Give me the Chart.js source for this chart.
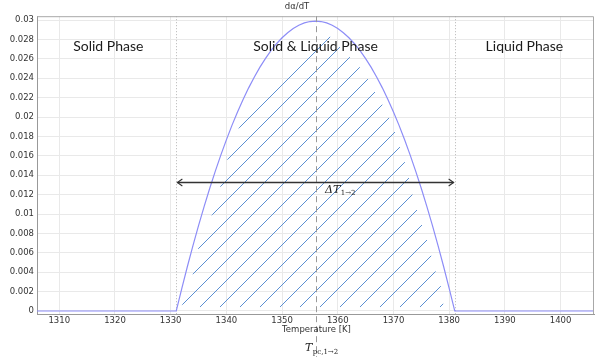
<!DOCTYPE html>
<html>
<head>
<meta charset="utf-8">
<script src="https://cdn.jsdelivr.net/npm/chart.js@4.4.1/dist/chart.umd.min.js"></script>
<style>
html,body{margin:0;padding:0;background:#fff;}
canvas{display:block;}
</style>
</head>
<body>
<canvas id="c" width="600" height="357"></canvas>
<script>
// ---- data ----
const xTicks = [1310,1320,1330,1340,1350,1360,1370,1380,1390,1400];
const yTicks = [0,0.002,0.004,0.006,0.008,0.01,0.012,0.014,0.016,0.018,0.02,0.022,0.024,0.026,0.028,0.03];
const tempK = [1306,1331,1332,1333,1334,1335,1336,1337,1338,1339,1340,1341,1342,1343,1344,1345,1346,1347,1348,1349,1350,1351,1352,1353,1354,1355,1356,
               1357,1358,1359,1360,1361,1362,1363,1364,1365,1366,1367,1368,1369,1370,1371,1372,1373,1374,1375,1376,1377,1378,1379,1380,1381,1406];
const dAlphaDT = [0,0,0.00234,0.00459,0.00675,0.0088,0.01076,0.01263,0.0144,0.01607,0.01765,0.01914,0.02052,0.02182,0.02301,0.02411,0.02512,0.02602,0.02684,0.02756,0.02818,0.0287,0.02913,0.02947,0.02971,0.02985,0.0299,
                  0.02985,0.02971,0.02947,0.02913,0.0287,0.02818,0.02756,0.02684,0.02602,0.02512,0.02411,0.02301,0.02182,0.02052,0.01914,0.01765,0.01607,0.0144,0.01263,0.01076,0.0088,0.00675,0.00459,0.00234,0,0];
// upper edge of the hatched region
const hatchT   = [1331.9,1332.6,1334.4,1335.1,1337.8,1340.3,1342.1,1345.5,1357.5,1360.9,1364.5,1368.1,1369.7,1372.4,1373.6,1375.0,1376.3,1377.0,1377.9,1378.8,1379.0];
const hatchTop = [0.0004,0.0014,0.0045,0.0070,0.0104,0.0159,0.0187,0.0227,0.0290,0.0269,0.0248,0.0212,0.0194,0.0147,0.0115,0.0091,0.0068,0.0052,0.0034,0.0021,0.0004];
const hatchBase = 0.0004;
const phaseStart = 1331, phaseEnd = 1381, phaseCenter = 1356;
const arrowLevel = 0.01329;
const phaseLabels = ['Solid Phase','Solid & Liquid Phase','Liquid Phase'];
const phaseLabelT = [1318.8,1356,1393.5];
const phaseLabelY = 0.0268;
const xAxisTitle = 'Temperature [K]';

// ---- hatch pattern ----
const tile = document.createElement('canvas');
tile.width = 20; tile.height = 20;
const tc = tile.getContext('2d');
tc.strokeStyle = '#5b8fd2';
tc.lineWidth = 1;
tc.beginPath();
tc.moveTo(-2,22); tc.lineTo(22,-2);
tc.moveTo(-5,5); tc.lineTo(5,-5);
tc.moveTo(15,25); tc.lineTo(25,15);
tc.stroke();
const ctxMain = document.getElementById('c').getContext('2d');
const hatchPattern = ctxMain.createPattern(tile,'repeat');
hatchPattern.setTransform(new DOMMatrix().translate(7,0));

const curvePts = tempK.map((t,i)=>({x:t,y:dAlphaDT[i]}));
const hatchPts = hatchT.map((t,i)=>({x:t,y:hatchTop[i]}));

const annot = {
  id:'annot',
  beforeDatasetsDraw(chart){
    const {ctx, chartArea:a, scales:{x}} = chart;
    ctx.save();
    ctx.strokeStyle = '#b5b5b5';
    ctx.lineWidth = 1;
    ctx.setLineDash([1,2]);
    [phaseStart, phaseEnd].forEach(t=>{
      const px = Math.round(x.getPixelForValue(t))+0.5;
      ctx.beginPath(); ctx.moveTo(px,a.top); ctx.lineTo(px,a.bottom); ctx.stroke();
    });
    ctx.restore();
  },
  afterDatasetsDraw(chart){
    const {ctx, chartArea:a, scales:{x,y}} = chart;
    ctx.save();
    // top/right frame
    ctx.strokeStyle = '#a8a8a8'; ctx.lineWidth = 1;
    ctx.beginPath();
    ctx.moveTo(a.left, a.top+0.5); ctx.lineTo(a.right-0.5, a.top+0.5); ctx.lineTo(a.right-0.5, a.bottom);
    ctx.stroke();
    // dashed centre line
    const cx = Math.round(x.getPixelForValue(phaseCenter))+0.5;
    ctx.strokeStyle = '#9a9a9a';
    ctx.setLineDash([6,4]);
    ctx.beginPath(); ctx.moveTo(cx,a.top); ctx.lineTo(cx,chart.height); ctx.stroke();
    ctx.setLineDash([]);
    // double arrow
    const ay = Math.round(y.getPixelForValue(arrowLevel))+0.5;
    const x1 = x.getPixelForValue(phaseStart+0.2), x2 = x.getPixelForValue(phaseEnd-0.2);
    ctx.strokeStyle = '#333'; ctx.lineWidth = 1.4;
    ctx.beginPath(); ctx.moveTo(x1,ay); ctx.lineTo(x2,ay); ctx.stroke();
    ctx.lineWidth = 1.1;
    ctx.beginPath();
    ctx.moveTo(x1+5,ay-3.5); ctx.lineTo(x1,ay); ctx.lineTo(x1+5,ay+3.5);
    ctx.moveTo(x2-5,ay-3.5); ctx.lineTo(x2,ay); ctx.lineTo(x2-5,ay+3.5);
    ctx.stroke();
    // phase labels
    ctx.fillStyle = '#1a1a1a';
    ctx.font = '14px Lato';
    ctx.textAlign = 'center'; ctx.textBaseline = 'alphabetic';
    phaseLabels.forEach((s,i)=>{
      ctx.fillText(s, x.getPixelForValue(phaseLabelT[i]), y.getPixelForValue(phaseLabelY));
    });
    // x axis title
    ctx.fillStyle = '#333';
    ctx.font = '8.5px "DejaVu Sans"';
    ctx.textBaseline = 'middle';
    ctx.fillText(xAxisTitle, (a.left+a.right)/2+1, a.bottom+15.5);
    ctx.textBaseline = 'alphabetic';
    // Delta T label
    ctx.textAlign = 'left';
    ctx.fillStyle = '#222';
    const dx = x.getPixelForValue(1357.7), dy = y.getPixelForValue(0.0122);
    ctx.font = 'italic 11px "DejaVu Serif"';
    ctx.fillText('ΔT', dx, dy);
    const w1 = ctx.measureText('ΔT').width;
    ctx.font = '7px "DejaVu Serif"';
    ctx.fillText('1→2', dx+w1+0.5, dy+2.5);
    // T_pc label
    const tx = x.getPixelForValue(1354.1), ty = 351;
    ctx.font = 'italic 11px "DejaVu Serif"';
    ctx.fillText('T', tx, ty);
    const w2 = ctx.measureText('T').width;
    ctx.font = '7px "DejaVu Serif"';
    ctx.fillText('pc,1→2', tx+w2+0.5, ty+2.5);
    ctx.restore();
  }
};

const tickFont = {family:'DejaVu Sans', size:8.5};
new Chart(ctxMain, {
  type:'line',
  data:{
    datasets:[
      {data:curvePts, borderColor:'#8d8df7', borderWidth:1.2, pointRadius:0, fill:false, tension:0, order:1},
      {data:hatchPts, borderWidth:0, borderColor:'rgba(0,0,0,0)', backgroundColor:hatchPattern, pointRadius:0, fill:{value:hatchBase}, tension:0, order:2}
    ]
  },
  options:{
    responsive:false,
    animation:false,
    layout:{padding:{top:0,right:6,left:0,bottom:0}},
    plugins:{
      legend:{display:false},
      tooltip:{enabled:false},
      title:{display:true, text:'dα/dT', color:'#333', font:{family:'DejaVu Sans', size:8.5, weight:'normal'}, padding:{top:2,bottom:4}}
    },
    scales:{
      x:{
        type:'linear', min:1306, max:1406,
        afterBuildTicks:s=>{s.ticks = xTicks.map(v=>({value:v}));},
        afterFit:s=>{s.height = 43;},
        ticks:{color:'#333', font:tickFont, padding:2, maxRotation:0, callback:v=>String(v)},
        grid:{color:'#e9e9e9', drawTicks:false},
        border:{color:'#999'},
        title:{display:false}
      },
      y:{
        min:-0.00031, max:0.0304,
        afterBuildTicks:s=>{s.ticks = yTicks.map(v=>({value:v}));},
        afterFit:s=>{s.width = 37;},
        ticks:{color:'#333', font:tickFont, padding:3, callback:v=>String(Number(v.toFixed(3)))},
        grid:{color:'#e9e9e9', drawTicks:false},
        border:{color:'#999'}
      }
    }
  },
  plugins:[annot]
});
</script>
</body>
</html>
